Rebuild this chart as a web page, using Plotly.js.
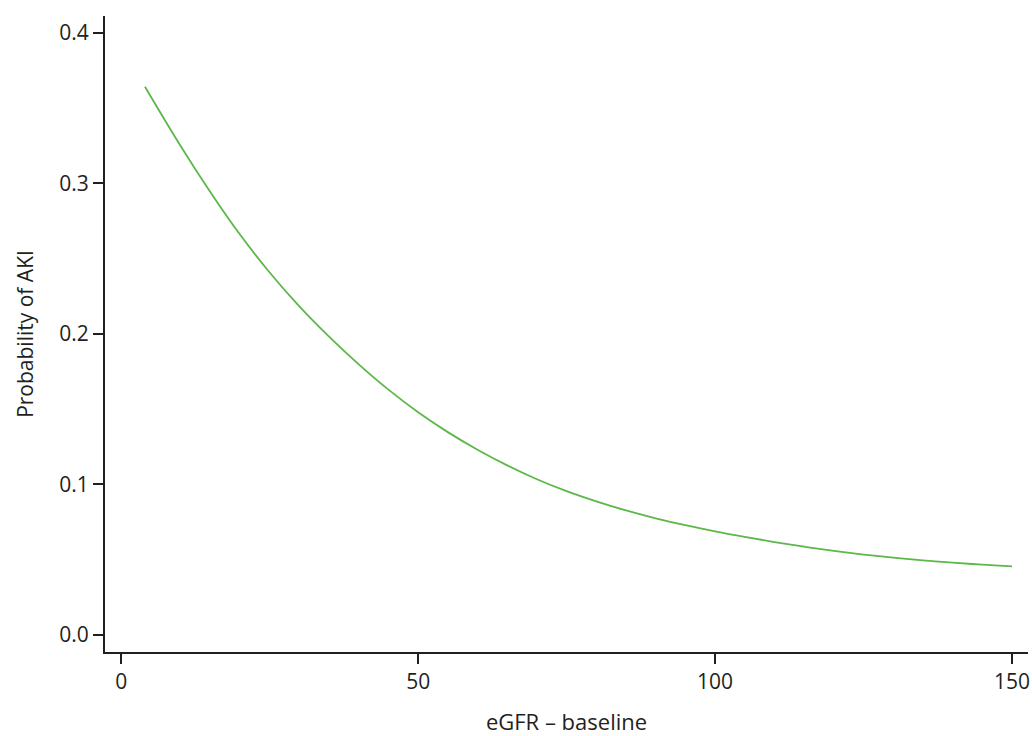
<!DOCTYPE html>
<html>
<head>
<meta charset="utf-8">
<script src="https://cdn.plot.ly/plotly-3.0.1.min.js"></script>
<style>html,body{margin:0;padding:0;background:#fff;}#chart{width:1032px;height:736px;}</style>
</head>
<body>
<div id="chart"></div>
<script>
const egfr = [4, 10, 15, 20, 25, 30, 35, 40, 45, 50, 55, 60, 65, 70, 75, 80, 85, 90, 95, 100, 105, 110, 115, 120, 125, 130, 135, 140, 145, 150];
const probAKI = [0.364, 0.3247, 0.2942, 0.2659, 0.2407, 0.2182, 0.1981, 0.1797, 0.1629, 0.1479, 0.1347, 0.1230, 0.1126, 0.1034, 0.0955, 0.0887, 0.0827, 0.0775, 0.0729, 0.0688, 0.0651, 0.0617, 0.0586, 0.0558, 0.0534, 0.0513, 0.0495, 0.0480, 0.0467, 0.0456];
const xTicks = [0, 50, 100, 150];
const yTicks = [0, 0.1, 0.2, 0.3, 0.4];

const ink = '#231f20';
const trace = {
  x: egfr, y: probAKI, type: 'scatter', mode: 'lines',
  line: {color: '#5cb848', width: 1.8, shape: 'spline', smoothing: 1},
  hoverinfo: 'skip'
};
const layout = {
  width: 1032, height: 736,
  margin: {l: 104.5, r: 4, t: 16, b: 84},
  paper_bgcolor: '#fff', plot_bgcolor: '#fff',
  showlegend: false,
  font: {family: '"Open Sans", "Noto Sans", sans-serif', size: 21, color: ink},
  xaxis: {
    range: [-2.73, 152.7], tickvals: xTicks, ticktext: xTicks.map(String),
    showline: true, linecolor: ink, linewidth: 2, showgrid: false, zeroline: false,
    ticks: 'outside', ticklen: 10, tickwidth: 2, tickcolor: ink,
    tickfont: {size: 21, color: ink},
    title: {text: 'eGFR – baseline', font: {size: 22, color: ink}, standoff: 24}
  },
  yaxis: {
    range: [-0.0113, 0.411], tickvals: yTicks, ticktext: yTicks.map(v => v.toFixed(1)),
    showline: true, linecolor: ink, linewidth: 2, showgrid: false, zeroline: false,
    ticks: 'outside', ticklen: 10, tickwidth: 2, tickcolor: ink,
    tickfont: {size: 21, color: ink},
    title: {text: 'Probability of AKI', font: {size: 21, color: ink}, standoff: 20}
  }
};
Plotly.newPlot('chart', [trace], layout, {displayModeBar: false, staticPlot: true});
</script>
</body>
</html>
